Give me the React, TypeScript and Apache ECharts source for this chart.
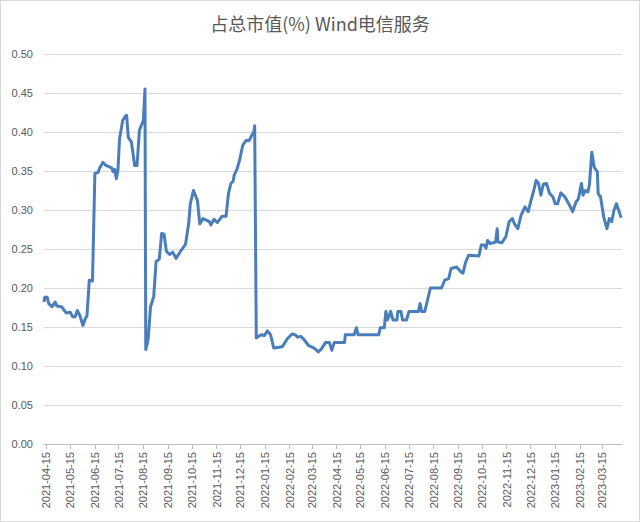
import React, { useEffect, useRef } from 'react';
import * as echarts from 'echarts';

// trading dates and share of total market cap (%)
const dates = [
  '2021-04-12', '2021-04-13', '2021-04-16', '2021-04-18', '2021-04-22', '2021-04-26', '2021-04-28',
  '2021-05-04', '2021-05-10', '2021-05-15', '2021-05-18', '2021-05-21', '2021-05-24', '2021-05-27',
  '2021-05-31', '2021-06-03', '2021-06-05', '2021-06-08', '2021-06-12', '2021-06-15', '2021-06-19',
  '2021-06-21', '2021-06-25', '2021-06-29', '2021-07-02', '2021-07-06', '2021-07-08', '2021-07-10',
  '2021-07-12', '2021-07-14', '2021-07-16', '2021-07-20', '2021-07-24', '2021-07-25', '2021-07-27',
  '2021-07-31', '2021-08-04', '2021-08-07', '2021-08-10', '2021-08-15', '2021-08-17', '2021-08-18',
  '2021-08-21', '2021-08-24', '2021-08-28', '2021-08-31', '2021-09-04', '2021-09-07', '2021-09-10',
  '2021-09-13', '2021-09-17', '2021-09-21', '2021-09-25', '2021-10-02', '2021-10-07', '2021-10-11',
  '2021-10-13', '2021-10-17', '2021-10-22', '2021-10-25', '2021-10-29', '2021-11-02', '2021-11-06',
  '2021-11-08', '2021-11-12', '2021-11-16', '2021-11-19', '2021-11-22', '2021-11-27', '2021-11-30',
  '2021-12-03', '2021-12-06', '2021-12-07', '2021-12-11', '2021-12-14', '2021-12-18', '2021-12-22',
  '2021-12-26', '2021-12-29', '2022-01-01', '2022-01-02', '2022-01-04', '2022-01-10', '2022-01-14',
  '2022-01-18', '2022-01-22', '2022-01-26', '2022-02-02', '2022-02-06', '2022-02-12', '2022-02-18',
  '2022-02-22', '2022-02-25', '2022-03-01', '2022-03-05', '2022-03-11', '2022-03-16', '2022-03-20',
  '2022-03-23', '2022-03-27', '2022-04-01', '2022-04-06', '2022-04-09', '2022-04-12', '2022-04-25',
  '2022-04-26', '2022-05-07', '2022-05-10', '2022-05-12', '2022-06-07', '2022-06-09', '2022-06-14',
  '2022-06-16', '2022-06-18', '2022-06-22', '2022-06-25', '2022-06-30', '2022-07-01', '2022-07-05',
  '2022-07-07', '2022-07-12', '2022-07-15', '2022-07-27', '2022-07-29', '2022-07-31', '2022-08-04',
  '2022-08-11', '2022-08-25', '2022-08-29', '2022-09-03', '2022-09-06', '2022-09-13', '2022-09-18',
  '2022-09-21', '2022-09-24', '2022-09-28', '2022-10-11', '2022-10-14', '2022-10-18', '2022-10-20',
  '2022-10-22', '2022-10-25', '2022-10-29', '2022-11-01', '2022-11-03', '2022-11-04', '2022-11-09',
  '2022-11-14', '2022-11-18', '2022-11-22', '2022-11-25', '2022-11-29', '2022-12-03', '2022-12-08',
  '2022-12-12', '2022-12-15', '2022-12-19', '2022-12-22', '2022-12-25', '2022-12-28', '2022-12-31',
  '2023-01-04', '2023-01-08', '2023-01-12', '2023-01-15', '2023-01-18', '2023-01-22', '2023-01-27',
  '2023-01-31', '2023-02-04', '2023-02-06', '2023-02-10', '2023-02-13', '2023-02-17', '2023-02-19',
  '2023-02-22', '2023-02-25', '2023-02-27', '2023-03-02', '2023-03-05', '2023-03-09', '2023-03-10',
  '2023-03-13', '2023-03-17', '2023-03-21', '2023-03-24', '2023-03-27', '2023-03-30', '2023-04-02',
  '2023-04-06', '2023-04-08',
];

const values = [
  0.182, 0.188, 0.188, 0.180, 0.176, 0.182, 0.177,
  0.176, 0.168, 0.169, 0.163, 0.163, 0.171, 0.165,
  0.152, 0.161, 0.164, 0.210, 0.209, 0.347, 0.348,
  0.354, 0.361, 0.357, 0.356, 0.354, 0.349, 0.352,
  0.340, 0.351, 0.391, 0.415, 0.421, 0.421, 0.393,
  0.387, 0.357, 0.357, 0.402, 0.415, 0.455, 0.121,
  0.134, 0.176, 0.189, 0.234, 0.237, 0.270, 0.269,
  0.247, 0.243, 0.246, 0.238, 0.249, 0.256, 0.283,
  0.308, 0.325, 0.312, 0.282, 0.289, 0.287, 0.285,
  0.281, 0.288, 0.284, 0.288, 0.292, 0.292, 0.321,
  0.334, 0.337, 0.344, 0.353, 0.364, 0.383, 0.389,
  0.389, 0.395, 0.400, 0.408, 0.136, 0.140, 0.139,
  0.145, 0.140, 0.123, 0.124, 0.125, 0.135, 0.141,
  0.140, 0.137, 0.138, 0.134, 0.126, 0.124, 0.121,
  0.118, 0.122, 0.130, 0.130, 0.120, 0.130, 0.130,
  0.140, 0.140, 0.149, 0.140, 0.140, 0.149, 0.149,
  0.170, 0.159, 0.170, 0.159, 0.159, 0.170, 0.170,
  0.159, 0.159, 0.170, 0.170, 0.180, 0.170, 0.170,
  0.200, 0.200, 0.210, 0.212, 0.225, 0.227, 0.221,
  0.219, 0.232, 0.242, 0.241, 0.255, 0.255, 0.251,
  0.261, 0.257, 0.258, 0.259, 0.276, 0.259, 0.258,
  0.266, 0.285, 0.289, 0.282, 0.276, 0.293, 0.304,
  0.298, 0.310, 0.325, 0.338, 0.334, 0.319, 0.333,
  0.334, 0.321, 0.317, 0.308, 0.308, 0.322, 0.317,
  0.310, 0.302, 0.298, 0.310, 0.314, 0.334, 0.319,
  0.325, 0.323, 0.332, 0.374, 0.355, 0.349, 0.321,
  0.317, 0.291, 0.276, 0.289, 0.285, 0.300, 0.308,
  0.296, 0.290,
];

const tickDates = [
  '2021-04-15', '2021-05-15', '2021-06-15', '2021-07-15', '2021-08-15', '2021-09-15',
  '2021-10-15', '2021-11-15', '2021-12-15', '2022-01-15', '2022-02-15', '2022-03-15',
  '2022-04-15', '2022-05-15', '2022-06-15', '2022-07-15', '2022-08-15', '2022-09-15',
  '2022-10-15', '2022-11-15', '2022-12-15', '2023-01-15', '2023-02-15', '2023-03-15',
];

const axisStart = '2021-04-12';
const axisEnd = '2023-04-09';

const ts = (d: string) => +echarts.time.parse(d);
const pad = (n: number) => (n < 10 ? '0' + n : '' + n);

const App: React.FC = () => {
  const chartRef = useRef<HTMLDivElement>(null);

  useEffect(() => {
    if (!chartRef.current) return;
    const chart = echarts.init(chartRef.current, undefined, { renderer: 'svg' });

    const tickValues = tickDates.map(ts);

    chart.setOption({
      animation: false,
      title: {
        text: '占总市值(%) Wind电信服务',
        left: 'center',
        top: 8,
        textStyle: {
          fontFamily: 'Noto Sans CJK SC',
          fontSize: 18,
          fontWeight: 'normal',
          color: '#595959',
        },
      },
      grid: { left: 43, right: 17, top: 53, bottom: 77 },
      xAxis: {
        type: 'value',
        min: ts(axisStart),
        max: ts(axisEnd),
        axisLine: { onZero: false, lineStyle: { color: '#bfbfbf' } },
        axisTick: { customValues: tickValues, length: 5, lineStyle: { color: '#bfbfbf' } },
        splitLine: { show: false },
        axisLabel: {
          customValues: tickValues,
          rotate: 90,
          margin: 8,
          fontSize: 11,
          fontFamily: 'Liberation Sans',
          color: '#595959',
          formatter: (v: number) => {
            const d = new Date(v);
            return d.getFullYear() + '-' + pad(d.getMonth() + 1) + '-' + pad(d.getDate());
          },
        },
      },
      yAxis: {
        type: 'value',
        min: 0,
        max: 0.5,
        interval: 0.05,
        axisLine: { show: false },
        axisTick: { show: false },
        splitLine: { lineStyle: { color: '#d9d9d9' } },
        axisLabel: {
          margin: 11,
          fontSize: 11,
          fontFamily: 'Liberation Sans',
          color: '#595959',
          formatter: (v: number) => v.toFixed(2),
        },
      },
      series: [
        {
          type: 'line',
          data: dates.map((d, i) => [ts(d), values[i]]),
          showSymbol: false,
          symbol: 'none',
          lineStyle: { color: '#4a7ebb', width: 3, join: 'round' },
        },
      ],
    });

    return () => {
      chart.dispose();
    };
  }, []);

  return (
    <div
      style={{
        position: 'fixed',
        left: 0,
        top: 0,
        width: 640,
        height: 522,
        boxSizing: 'border-box',
        border: '1px solid #d9d9d9',
        background: '#fff',
      }}
    >
      <div ref={chartRef} style={{ width: 638, height: 520 }} />
    </div>
  );
};

export default App;
